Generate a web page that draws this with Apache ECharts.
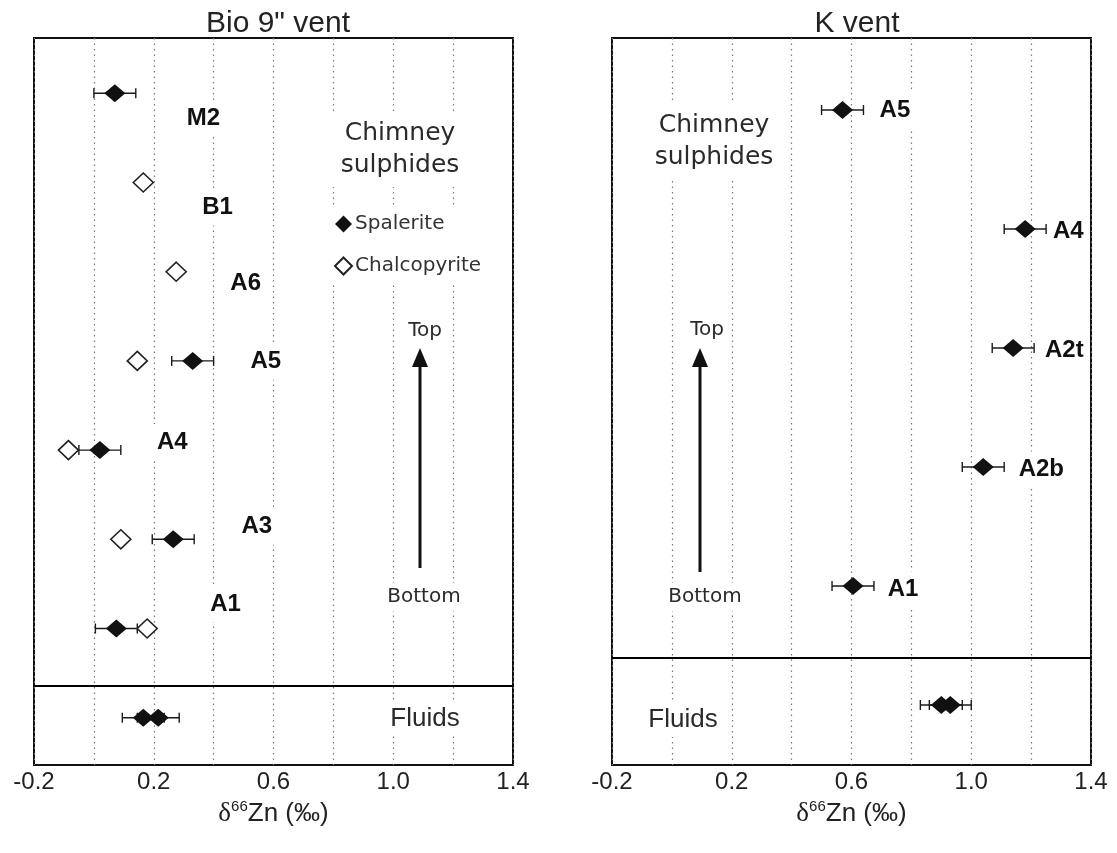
<!DOCTYPE html>
<html><head><meta charset="utf-8">
<script src="https://cdn.jsdelivr.net/npm/echarts@6/dist/echarts.min.js"></script>
<style>html,body{margin:0;padding:0;background:#fff}#c{width:1117px;height:853px}</style>
</head><body><div id="c"></div>
<script>
// ---------- DATA ----------
// Bio 9" vent (top of chimney = highest level)
const bioSamples      = ['M2', 'B1', 'A6', 'A5', 'A4', 'A3', 'A1'];
const bioLevels       = [7, 6, 5, 4, 3, 2, 1];
const bioSphalerite   = [0.07, null, null, 0.33, 0.02, 0.265, 0.075];
const bioChalcopyrite = [null, 0.165, 0.275, 0.145, -0.085, 0.09, 0.178];
const bioFluids       = [0.165, 0.215];
// K vent
const kSamples        = ['A5', 'A4', 'A2t', 'A2b', 'A1'];
const kLevels         = [5, 4, 3, 2, 1];
const kSphalerite     = [0.57, 1.18, 1.14, 1.04, 0.605];
const kFluids         = [0.90, 0.93];
const errHalf         = 0.07;     // 2SD error bars
const xTickLabels     = [-0.2, 0.2, 0.6, 1.0, 1.4];

// ---------- LAYOUT (not data) ----------
const bioLabelAt = [[0.366,6.72],[0.413,5.72],[0.507,4.87],[0.574,3.99],[0.262,3.09],[0.544,2.14],[0.44,1.27]];
const kLabelAt   = [[0.745,5.0],[1.324,3.98],[1.311,2.98],[1.234,1.98],[0.772,0.97]];
const bioYRange = [-0.53, 7.62], bioSep = 0.36;
const kYRange   = [-0.504, 5.605], kSep = 0.403;

const SANS = '"Liberation Sans", Arial, sans-serif';
const DJV = '"DejaVu Sans", Verdana, sans-serif';

function errRender(params, api) {
  const y = api.value(1), v = api.value(0), e = api.value(2);
  const p1 = api.coord([v - e, y]), p2 = api.coord([v + e, y]);
  const h = 5, style = { stroke: '#1a1a1a', lineWidth: 1.4 };
  return { type: 'group', children: [
    { type: 'line', shape: { x1: p1[0], y1: p1[1], x2: p2[0], y2: p2[1] }, style },
    { type: 'line', shape: { x1: p1[0], y1: p1[1] - h, x2: p1[0], y2: p1[1] + h }, style },
    { type: 'line', shape: { x1: p2[0], y1: p2[1] - h, x2: p2[0], y2: p2[1] + h }, style }
  ]};
}

function xAxisDef(idx) {
  return {
    type: 'value', gridIndex: idx, min: -0.2, max: 1.4, interval: 0.2,
    axisLine: { show: false }, axisTick: { show: false },
    splitLine: { show: true, lineStyle: { color: '#777', width: 1.2, type: [1.5, 4] } },
    axisLabel: {
      margin: 5, fontSize: 24, color: '#222', fontFamily: SANS,
      formatter: v => xTickLabels.some(t => Math.abs(t - v) < 1e-6) ? v.toFixed(1) : ''
    },
    name: '{d|δ}{s|66}{a|Zn (‰)}', nameLocation: 'middle', nameGap: 28,
    nameTextStyle: { rich: {
      d: { fontSize: 27, fontFamily: '"Liberation Serif", serif', color: '#222', lineHeight: 30 },
      s: { fontSize: 15, fontFamily: SANS, color: '#222', lineHeight: 15, verticalAlign: 'top' },
      a: { fontSize: 26, fontFamily: SANS, color: '#222', lineHeight: 30 }
    } }
  };
}
function yAxisDef(idx, r) {
  return { type: 'value', gridIndex: idx, min: r[0], max: r[1], show: false, splitLine: { show: false } };
}

const rowsBioSph = [], rowsBioCh = [];
bioSamples.forEach((s, i) => {
  if (bioSphalerite[i] != null) rowsBioSph.push([bioSphalerite[i], bioLevels[i]]);
  if (bioChalcopyrite[i] != null) rowsBioCh.push([bioChalcopyrite[i], bioLevels[i]]);
});
bioFluids.forEach(v => rowsBioSph.push([v, 0]));
const rowsKSph = kSphalerite.map((v, i) => [v, kLevels[i]]);
kFluids.forEach(v => rowsKSph.push([v, 0]));

const sphStyle = { color: '#111', opacity: 1 };
const chStyle = { color: '#fff', borderColor: '#222', borderWidth: 1.6, opacity: 1 };
const labelStyle = { show: true, position: 'inside', formatter: '{b}', fontSize: 24, fontWeight: 'bold',
  fontFamily: SANS, color: '#111', backgroundColor: '#fff', padding: [6, 5], opacity: 1 };
const sepLine = (v) => ({ silent: true, symbol: ['none', 'none'], label: { show: false },
  lineStyle: { color: '#000', type: 'solid', width: 2, opacity: 1 }, data: [{ yAxis: v }] });

const series = [
  { type: 'custom', xAxisIndex: 0, yAxisIndex: 0, renderItem: errRender, z: 3,
    data: rowsBioSph.map(r => [r[0], r[1], errHalf]), silent: true },
  { type: 'custom', xAxisIndex: 1, yAxisIndex: 1, renderItem: errRender, z: 3,
    data: rowsKSph.map(r => [r[0], r[1], errHalf]), silent: true },
  { name: 'Spalerite', type: 'scatter', xAxisIndex: 0, yAxisIndex: 0, symbol: 'diamond',
    symbolSize: [21, 18], itemStyle: sphStyle, z: 4, data: rowsBioSph, markLine: sepLine(bioSep) },
  { name: 'Chalcopyrite', type: 'scatter', xAxisIndex: 0, yAxisIndex: 0, symbol: 'diamond',
    symbolSize: [20, 19], itemStyle: chStyle, z: 4, data: rowsBioCh },
  { name: 'Spalerite', type: 'scatter', xAxisIndex: 1, yAxisIndex: 1, symbol: 'diamond',
    symbolSize: [21, 18], itemStyle: sphStyle, z: 4, data: rowsKSph, markLine: sepLine(kSep) },
  { type: 'scatter', xAxisIndex: 0, yAxisIndex: 0, symbolSize: 1, itemStyle: { color: 'transparent', opacity: 1 },
    label: labelStyle, z: 6, silent: true,
    data: bioSamples.map((s, i) => ({ name: s, value: bioLabelAt[i] })) },
  { type: 'scatter', xAxisIndex: 1, yAxisIndex: 1, symbolSize: 1, itemStyle: { color: 'transparent', opacity: 1 },
    label: labelStyle, z: 6, silent: true,
    data: kSamples.map((s, i) => ({ name: s, value: kLabelAt[i] })) }
];

function txt(text, x, y, font, size, extra) {
  return Object.assign({ type: 'text', z: 20, style: Object.assign({
    text, x, y, align: 'center', verticalAlign: 'middle',
    font: size + 'px ' + font, fill: '#2a2a2a', backgroundColor: '#fff', padding: [4, 6]
  }, extra || {}) });
}
function arrow(x, yTop, yBot) {
  return [
    { type: 'line', z: 21, shape: { x1: x, y1: yTop + 12, x2: x, y2: yBot }, style: { stroke: '#111', lineWidth: 3 } },
    { type: 'polygon', z: 21, shape: { points: [[x, yTop], [x - 8, yTop + 19], [x + 8, yTop + 19]] }, style: { fill: '#111' } }
  ];
}

const option = {
  backgroundColor: '#fff',
  animation: false,
  title: [
    { text: 'Bio 9" vent', left: 273, top: 4, textAlign: 'center',
      textStyle: { fontSize: 30, fontWeight: 'normal', fontFamily: SANS, color: '#222' } },
    { text: 'K vent', left: 852, top: 4, textAlign: 'center',
      textStyle: { fontSize: 30, fontWeight: 'normal', fontFamily: SANS, color: '#222' } }
  ],
  grid: [
    { left: 34, top: 38, width: 479, height: 727, show: true, borderColor: '#111', borderWidth: 2, backgroundColor: 'transparent' },
    { left: 612, top: 38, width: 479, height: 727, show: true, borderColor: '#111', borderWidth: 2, backgroundColor: 'transparent' }
  ],
  xAxis: [xAxisDef(0), xAxisDef(1)],
  yAxis: [yAxisDef(0, bioYRange), yAxisDef(1, kYRange)],
  legend: {
    data: ['Spalerite', 'Chalcopyrite'], orient: 'vertical', left: 326, top: 206,
    itemWidth: 17, itemHeight: 17, itemGap: 22, padding: [8, 8],
    backgroundColor: '#fff', selectedMode: false, z: 20,
    textStyle: { fontSize: 20, fontFamily: DJV, color: '#333', padding: [0, 0, 0, -2] }
  },
  graphic: [
    txt('Chimney\nsulphides', 400, 149, DJV, 25, { lineHeight: 32, padding: [6, 8] }),
    txt('Top', 425, 331, DJV, 20),
    txt('Bottom', 424, 597, DJV, 20),
    txt('Fluids', 425, 719, SANS, 26),
    ...arrow(420, 348, 568),
    txt('Chimney\nsulphides', 714, 141, DJV, 25, { lineHeight: 32, padding: [6, 8] }),
    txt('Top', 707, 330, DJV, 20),
    txt('Bottom', 705, 597, DJV, 20),
    txt('Fluids', 683, 720, SANS, 26),
    ...arrow(700, 348, 572)
  ],
  series
};
echarts.init(document.getElementById('c'), null, { renderer: 'canvas' }).setOption(option);
</script>
</body></html>
